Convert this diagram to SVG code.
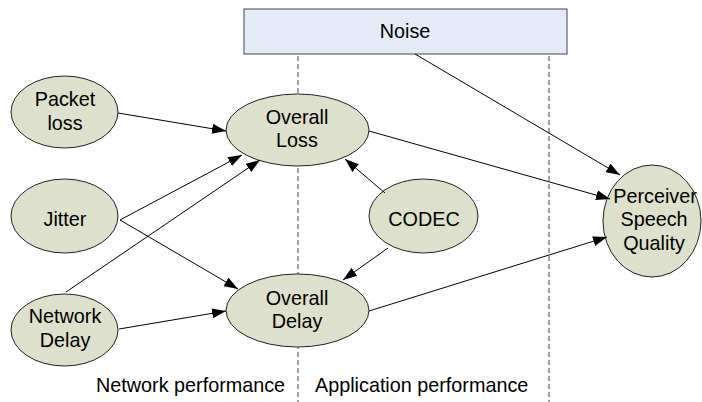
<svg xmlns="http://www.w3.org/2000/svg" width="702" height="402" viewBox="0 0 702 402">
<style>
  .node ellipse { fill: #dde0cb; stroke: #222; stroke-width: 1; }
  .box { fill: #e5ebf6; stroke: #444; stroke-width: 1; }
  text { font-family: "Liberation Sans", Arial, sans-serif; font-size: 19.8px; fill: #000; text-anchor: middle; }
  .lbl { text-anchor: start; }
  .conn line { stroke: #000; stroke-width: 1; marker-end: url(#arr); }
  .dash { stroke: #444; stroke-width: 1; stroke-dasharray: 5 3; }
</style>
<defs>
  <marker id="arr" viewBox="0 0 14 10" refX="14" refY="5" markerWidth="14" markerHeight="10" markerUnits="userSpaceOnUse" orient="auto">
    <path d="M0,0 L14,5 L0,10 Z" fill="#000"/>
  </marker>
</defs>
<rect width="702" height="402" fill="#fff"/>
<g id="dividers">
  <line class="dash" x1="298" y1="56" x2="298" y2="402"/>
  <line class="dash" x1="549" y1="56" x2="549" y2="402"/>
</g>
<g id="noise">
  <rect class="box" x="244" y="9" width="323" height="45"/>
  <text x="405" y="38">Noise</text>
</g>
<g id="packet-loss" class="node">
  <ellipse cx="64.5" cy="112" rx="53.5" ry="36"/>
  <text x="65" y="106">Packet</text>
  <text x="65" y="130">loss</text>
</g>
<g id="jitter" class="node">
  <ellipse cx="64.5" cy="216" rx="53.5" ry="37"/>
  <text x="65" y="226">Jitter</text>
</g>
<g id="network-delay" class="node">
  <ellipse cx="64.5" cy="330" rx="53.5" ry="36"/>
  <text x="65" y="323">Network</text>
  <text x="65" y="347">Delay</text>
</g>
<g id="overall-loss" class="node">
  <ellipse cx="297.5" cy="130" rx="71.5" ry="36"/>
  <text x="297" y="124">Overall</text>
  <text x="297" y="147">Loss</text>
</g>
<g id="overall-delay" class="node">
  <ellipse cx="297.5" cy="310.5" rx="71.5" ry="36.5"/>
  <text x="297" y="305">Overall</text>
  <text x="297" y="328">Delay</text>
</g>
<g id="codec" class="node">
  <ellipse cx="423.5" cy="216" rx="54.5" ry="37"/>
  <text x="424" y="226">CODEC</text>
</g>
<g id="perceiver" class="node">
  <ellipse cx="652" cy="221" rx="49" ry="56"/>
  <text x="655" y="203">Perceiver</text>
  <text x="654" y="226">Speech</text>
  <text x="654" y="250">Quality</text>
</g>
<g id="connectors" class="conn">
  <line x1="118" y1="113" x2="226" y2="131"/>
  <line x1="120" y1="220" x2="242" y2="155"/>
  <line x1="66" y1="292" x2="260" y2="160"/>
  <line x1="120" y1="220" x2="238" y2="289"/>
  <line x1="119" y1="329" x2="226" y2="311"/>
  <line x1="385" y1="193" x2="345" y2="159"/>
  <line x1="388" y1="248" x2="343" y2="280"/>
  <line x1="369" y1="131" x2="610" y2="199"/>
  <line x1="369" y1="311" x2="607" y2="237"/>
  <line x1="415" y1="54" x2="620" y2="175"/>
</g>
<g id="labels">
  <text class="lbl" x="96" y="392">Network performance</text>
  <text class="lbl" x="315" y="392">Application performance</text>
</g>
</svg>
